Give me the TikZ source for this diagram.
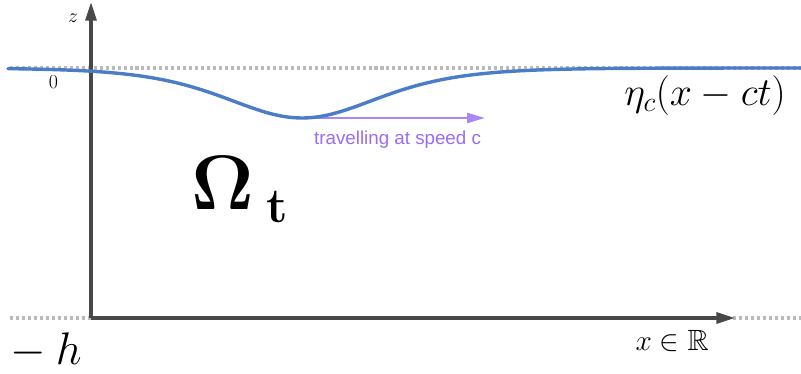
\RequirePackage{fix-cm}
\documentclass[tikz,border=0pt]{standalone}
\usepackage{amsmath}
\usepackage{amssymb}
\usepackage[no-math]{fontspec}
\newfontfamily\labelsans{Liberation Sans}
\usetikzlibrary{arrows.meta}

\definecolor{wavecol}{RGB}{74,124,199}
\definecolor{axiscol}{RGB}{72,72,72}
\definecolor{dotcol}{RGB}{186,186,186}
\definecolor{movecol}{RGB}{170,135,246}
\definecolor{movetext}{RGB}{155,108,240}

\begin{document}
\begin{tikzpicture}[
  x=0.03cm, y=-0.03cm,
  ax/.style={-{Triangle[length=5.6mm,width=3.3mm]},axiscol,line width=2.7pt},
  datum/.style={dotcol,line width=2.6pt,dash pattern=on 2.6pt off 2.5pt},
  wave/.style={wavecol,line width=2.9pt,line cap=round},
  move/.style={-{Triangle[length=5.4mm,width=3mm]},movecol,line width=2.2pt},
  lbl/.style={inner sep=0pt},
]
\useasboundingbox (0,0) rectangle (801,374);

% still-water level and bottom
\coordinate (lw) at (10,68);  \coordinate (le) at (801,68);
\coordinate (bw) at (10,318); \coordinate (be) at (801,318);
\draw[datum] (lw) -- (le);
\draw[datum] (bw) -- (be);

% ---- axes ----
\coordinate (o) at (91,318);
\coordinate (ztip) at (91,2);
\coordinate (xtip) at (735,318);
\draw[ax] (o) -- (ztip);
\draw[ax] (o) -- (xtip);
\node[lbl,anchor=base,font=\fontsize{17}{20}\selectfont] (zlab) at (73,23) {$z$};
\node[lbl,anchor=base,font=\fontsize{17}{20}\selectfont] (zero) at (53.5,89) {$0$};
\node[lbl,anchor=base east,font=\fontsize{25}{28}\selectfont] (xlab) at (709,351) {$x\in\mathbb{R}$};
\node[lbl,anchor=base west,font=\fontsize{39}{44}\selectfont] (depth) at (10,365) {$-\:h$};

% ---- travelling wave ----
\coordinate (trough) at (302,118);
\coordinate (ahead) at (485,118);
\draw[move] (trough) -- (ahead);
\draw[wave] plot[domain=8:801,samples=160,smooth] (\x,{68+50/(cosh((\x-302)/103))^2});
\node[lbl,anchor=base east,font=\fontsize{34}{37}\selectfont] (eta) at (786,106) {$\eta_c(x-ct)$};
\node[lbl,anchor=base west,font=\labelsans\fontsize{16}{19}\selectfont,text=movetext] (speed) at (314,145) {travelling at speed c};

% fluid domain
\node[lbl,anchor=base west,font=\fontsize{66}{70}\selectfont] (dom) at (191,210)
  {$\mathbf{\Omega}$\hspace{11pt}\raisebox{-11pt}{\fontsize{42}{46}\selectfont$\mathbf{t}$}};
\end{tikzpicture}
\end{document}
